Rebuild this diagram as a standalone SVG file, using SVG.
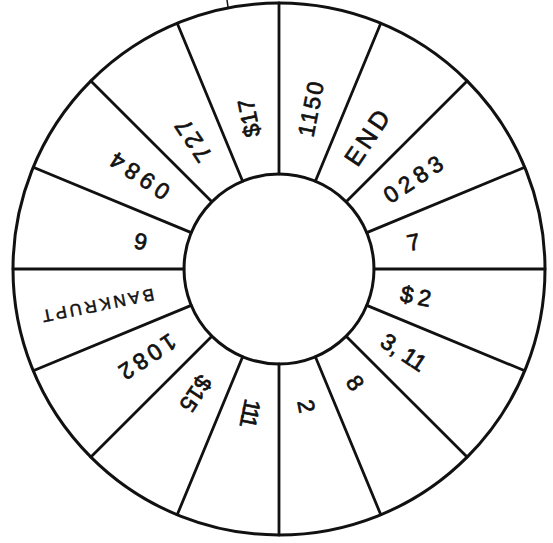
<svg xmlns="http://www.w3.org/2000/svg" width="553" height="543" viewBox="0 0 553 543">
<style>
.ring{fill:none;stroke:#111;stroke-width:3}
.div line{stroke:#111;stroke-width:2.8;stroke-linecap:round}
.lbl{font-family:"Liberation Sans",Arial,sans-serif;font-size:23px;fill:#111;stroke:#111;stroke-width:0.7;text-anchor:middle;dominant-baseline:central}
</style>
<rect width="553" height="543" fill="#fff"/>
<g id="wheel" transform="translate(279,269)">
  <circle id="outer" class="ring" r="266"/>
  <circle id="hub" class="ring" r="95"/>
  <g id="connectors" class="div">
    <line x1="95" y1="0" x2="266" y2="0" transform="rotate(0)"/>
    <line x1="95" y1="0" x2="266" y2="0" transform="rotate(22.5)"/>
    <line x1="95" y1="0" x2="266" y2="0" transform="rotate(45)"/>
    <line x1="95" y1="0" x2="266" y2="0" transform="rotate(67.5)"/>
    <line x1="95" y1="0" x2="266" y2="0" transform="rotate(90)"/>
    <line x1="95" y1="0" x2="266" y2="0" transform="rotate(112.5)"/>
    <line x1="95" y1="0" x2="266" y2="0" transform="rotate(135)"/>
    <line x1="95" y1="0" x2="266" y2="0" transform="rotate(157.5)"/>
    <line x1="95" y1="0" x2="266" y2="0" transform="rotate(180)"/>
    <line x1="95" y1="0" x2="266" y2="0" transform="rotate(202.5)"/>
    <line x1="95" y1="0" x2="266" y2="0" transform="rotate(225)"/>
    <line x1="95" y1="0" x2="266" y2="0" transform="rotate(247.5)"/>
    <line x1="95" y1="0" x2="266" y2="0" transform="rotate(270)"/>
    <line x1="95" y1="0" x2="266" y2="0" transform="rotate(292.5)"/>
    <line x1="95" y1="0" x2="266" y2="0" transform="rotate(315)"/>
    <line x1="95" y1="0" x2="266" y2="0" transform="rotate(337.5)"/>
  </g>
  <g id="seg-1150"><text class="lbl" transform="rotate(-78.75) translate(164,0)" style="letter-spacing:2px">1150</text></g>
  <g id="seg-end"><text class="lbl" transform="rotate(-56.25) translate(160,0)" style="font-size:25px;letter-spacing:4px">END</text></g>
  <g id="seg-0283"><text class="lbl" transform="rotate(-33.75) translate(164,0)" style="letter-spacing:5px">0283</text></g>
  <g id="seg-7"><text class="lbl" transform="rotate(-11.25) translate(137,0)">7</text></g>
  <g id="seg-2dollar"><text class="lbl" transform="rotate(11.25) translate(142,0)" style="letter-spacing:5px">$2</text></g>
  <g id="seg-3-11"><text class="lbl" transform="rotate(33.75) translate(150,0)">3, 11</text></g>
  <g id="seg-8"><text class="lbl" transform="rotate(56.25) translate(137,0)">8</text></g>
  <g id="seg-2"><text class="lbl" transform="rotate(78.75) translate(140,0)">2</text></g>
  <g id="seg-111"><text class="lbl" transform="rotate(101.25) translate(146,0)" style="letter-spacing:-3px">111</text></g>
  <g id="seg-15dollar"><text class="lbl" transform="rotate(123.75) translate(150,0)">$15</text></g>
  <g id="seg-1082"><text class="lbl" transform="rotate(146.25) translate(160,0)" style="letter-spacing:4px">1082</text></g>
  <g id="seg-bankrupt"><text class="lbl" transform="rotate(168.75) translate(186,0)" style="font-size:17px;letter-spacing:3px;stroke-width:0.5">BANKRUPT</text></g>
  <g id="seg-6"><text class="lbl" transform="rotate(191.25) translate(141,0)">6</text></g>
  <g id="seg-0984"><text class="lbl" transform="rotate(213.75) translate(170,0)" style="letter-spacing:5px">0984</text></g>
  <g id="seg-727"><text class="lbl" transform="rotate(236.25) translate(156,0)" style="font-size:24px;letter-spacing:3px">727</text></g>
  <g id="seg-17dollar"><text class="lbl" transform="rotate(258.75) translate(154,0)">$17</text></g>
</g>
<line x1="227" y1="0" x2="228" y2="7" stroke="#111" stroke-width="1.5"/>
</svg>
